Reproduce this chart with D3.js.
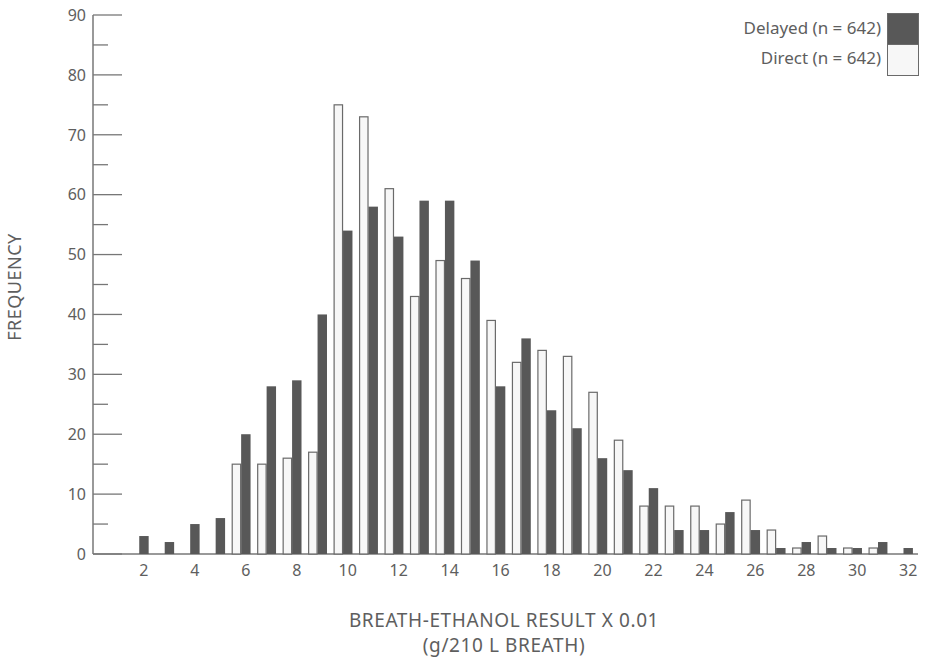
<!DOCTYPE html>
<html><head><meta charset="utf-8">
<script src="https://cdn.jsdelivr.net/npm/d3@7"></script>
<style>body{margin:0;background:#fff}svg{display:block}text{font-family:"Noto Sans","Open Sans",sans-serif}</style>
</head><body><svg id="c" width="927" height="663"></svg>
<script>
const categories = [2,3,4,5,6,7,8,9,10,11,12,13,14,15,16,17,18,19,20,21,22,23,24,25,26,27,28,29,30,31,32];
const delayed = [3,2,5,6,20,28,29,40,54,58,53,59,59,49,28,36,24,21,16,14,11,4,4,7,4,1,2,1,1,2,1];
const direct  = [0,0,0,0,15,15,16,17,75,73,61,43,49,46,39,32,34,33,27,19,8,8,8,5,9,4,1,3,1,1,0];
const xTickValues = [2,4,6,8,10,12,14,16,18,20,22,24,26,28,30,32];
const yMajorTicks = [0,10,20,30,40,50,60,70,80,90];
const yMinorTicks = [5,15,25,35,45,55,65,75,85];
const seriesNames = ["Delayed (n = 642)", "Direct (n = 642)"];

const svg = d3.select("#c");
const x = d3.scaleLinear().domain([0, 32]).range([93, 908.2]);
const y = d3.scaleLinear().domain([0, 90]).range([554, 15]);
const unit = x(1) - x(0);
const bw = unit * 0.37;
const axisColor = "#777";
const textColor = "#5e5e5e";
const darkFill = "#585858";
const lightFill = "#f7f7f7";

// axes lines
svg.append("line").attr("x1", 93).attr("x2", 93).attr("y1", y(90)).attr("y2", y(0)).attr("stroke", axisColor).attr("stroke-width", 1.5);
svg.append("line").attr("x1", 93).attr("x2", 918).attr("y1", y(0)).attr("y2", y(0)).attr("stroke", axisColor).attr("stroke-width", 1.5);

// y ticks
svg.selectAll(".ymaj").data(yMajorTicks).join("line")
  .attr("x1", 93).attr("x2", 122).attr("y1", d => y(d)).attr("y2", d => y(d))
  .attr("stroke", axisColor).attr("stroke-width", 1.3);
svg.selectAll(".ymin").data(yMinorTicks).join("line")
  .attr("x1", 93).attr("x2", 108).attr("y1", d => y(d)).attr("y2", d => y(d))
  .attr("stroke", axisColor).attr("stroke-width", 1.3);
svg.selectAll(".ylab").data(yMajorTicks).join("text")
  .attr("x", 86).attr("y", d => y(d)).attr("dy", "0.36em").attr("text-anchor", "end")
  .attr("font-size", 16).attr("fill", textColor).text(d => d);

// x labels
svg.selectAll(".xlab").data(xTickValues).join("text")
  .attr("x", d => x(d)).attr("y", 576).attr("text-anchor", "middle")
  .attr("font-size", 16).attr("fill", textColor).text(d => d);

// bars
const data = categories.map((c, i) => ({c, d: delayed[i], r: direct[i]}));
svg.selectAll(".dir").data(data.filter(d => d.r > 0)).join("rect")
  .attr("x", d => x(d.c) - bw/2 - bw + 0.5).attr("width", bw - 1)
  .attr("y", d => y(d.r)).attr("height", d => y(0) - y(d.r))
  .attr("fill", lightFill).attr("stroke", "#6a6a6a").attr("stroke-width", 1.2);
svg.selectAll(".del").data(data.filter(d => d.d > 0)).join("rect")
  .attr("x", d => x(d.c) - bw/2).attr("width", bw)
  .attr("y", d => y(d.d)).attr("height", d => y(0) - y(d.d))
  .attr("fill", darkFill);

// legend
const lg = svg.append("g");
lg.append("rect").attr("x", 887.5).attr("y", 13.5).attr("width", 31).attr("height", 31).attr("fill", darkFill).attr("stroke", "#6a6a6a");
lg.append("rect").attr("x", 887.5).attr("y", 44.5).attr("width", 31).attr("height", 31).attr("fill", lightFill).attr("stroke", "#6a6a6a");
lg.append("text").attr("x", 881).attr("y", 34).attr("text-anchor", "end").attr("font-size", 17).attr("fill", textColor).text(seriesNames[0]);
lg.append("text").attr("x", 881).attr("y", 64).attr("text-anchor", "end").attr("font-size", 17).attr("fill", textColor).text(seriesNames[1]);

// axis titles
svg.append("text").attr("x", 504).attr("y", 627).attr("text-anchor", "middle").attr("font-size", 19).attr("letter-spacing", 0.6).attr("fill", textColor).text("BREATH-ETHANOL RESULT X 0.01");
svg.append("text").attr("x", 504).attr("y", 652).attr("text-anchor", "middle").attr("font-size", 19).attr("letter-spacing", 0.6).attr("fill", textColor).text("(g/210 L BREATH)");
svg.append("text").attr("transform", "translate(21,287) rotate(-90)").attr("text-anchor", "middle").attr("font-size", 18).attr("letter-spacing", 0.5).attr("fill", textColor).text("FREQUENCY");
</script></body></html>
